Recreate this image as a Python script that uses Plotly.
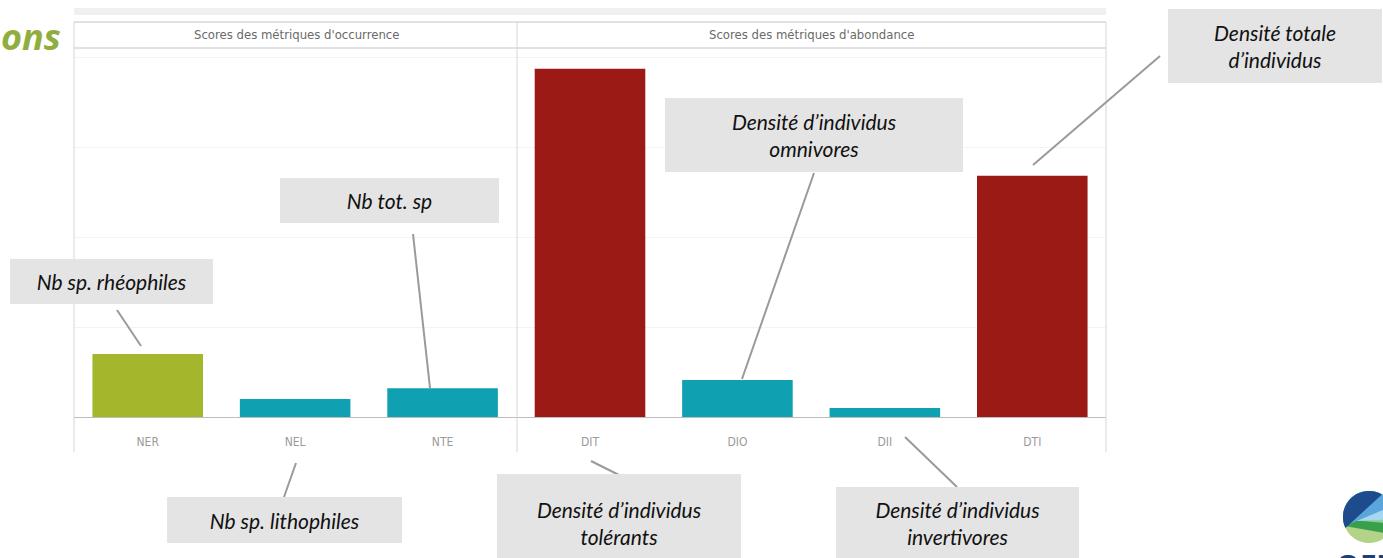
import math
import plotly.graph_objects as go

# ---------------- data ----------------
categories = ["NER", "NEL", "NTE", "DIT", "DIO", "DII", "DTI"]
scores = [0.70, 0.20, 0.32, 3.87, 0.41, 0.10, 2.68]
bar_colors = ["#a4b62b", "#0fa0b2", "#0fa0b2", "#9b1a16", "#0fa0b2", "#0fa0b2", "#9b1a16"]
facet_titles = ["Scores des métriques d'occurrence", "Scores des métriques d'abondance"]
callouts = [
    "Nb sp. rhéophiles",
    "Nb sp. lithophiles",
    "Nb tot. sp",
    "Densité d’individus<br>tolérants",
    "Densité d’individus<br>omnivores",
    "Densité d’individus<br>invertivores",
    "Densité totale<br>d’individus",
]

# ---------------- geometry helpers ----------------
W, H = 1383, 558
L, R, T, B = 74, 1106, 48, 417


def px(x):
    return (x - L) / (R - L)


def py(y):
    return (B - y) / (B - T)


fig = go.Figure()
fig.add_trace(go.Bar(
    x=categories, y=scores, marker=dict(color=bar_colors, line=dict(width=0)),
    width=0.75, hoverinfo="x+y",
))

shapes = []
line_col = "#c4c4c4"
# faint band at the very top
shapes.append(dict(type="rect", xref="paper", yref="paper", x0=px(74), x1=px(1106), y0=py(15), y1=py(8),
                   fillcolor="#f0f0f0", line=dict(width=0), layer="below"))
# frame
for yy in (22, 48):
    shapes.append(dict(type="line", xref="paper", yref="paper", x0=px(74), x1=px(1106), y0=py(yy), y1=py(yy),
                       line=dict(color=line_col, width=1)))
for xx in (74, 517, 1106):
    shapes.append(dict(type="line", xref="paper", yref="paper", x0=px(xx), x1=px(xx), y0=py(22), y1=py(452),
                       line=dict(color="#d6d6d6", width=1)))

# connector lines (pixel endpoints of decoration)
connectors = [
    ((117, 310), (141, 346)),
    ((296, 463), (284, 497)),
    ((413, 234), (430, 388)),
    ((591, 461), (619, 475)),
    ((814, 173), (742, 379)),
    ((905, 437), (957, 487)),
    ((1160, 56), (1033, 165)),
]
for (x0, y0), (x1, y1) in connectors:
    shapes.append(dict(type="line", xref="paper", yref="paper", x0=px(x0), y0=py(y0), x1=px(x1), y1=py(y1),
                       line=dict(color="#9a9a9a", width=2)))

# logo (decoration)
cx, cy, rad = 1369, 517, 26


def arc_region(a1, a2, n=40):
    pts = []
    for i in range(n + 1):
        a = math.radians(a1 + (a2 - a1) * i / n)
        pts.append((cx + rad * math.cos(a), cy - rad * math.sin(a)))
    return "M " + " L ".join(f"{px(x):.5f},{py(y):.5f}" for x, y in pts) + " Z"


logo_parts = [
    (0, 360, "#b3d488"),
    (-40, 200, "#3a9f4a"),
    (-15, 185, "#8bd0a0"),
    (-5, 190, "#a6d7f0"),
    (25, 200, "#5aa6dc"),
    (60, 205, "#1e4b8c"),
]
for a1, a2, col in logo_parts:
    shapes.append(dict(type="path", xref="paper", yref="paper", path=arc_region(a1, a2),
                       fillcolor=col, line=dict(width=0)))

annotations = []


def note(text, x, y, xanchor="center", yanchor="middle", **kw):
    annotations.append(dict(text=text, x=px(x), y=py(y), xref="paper", yref="paper", showarrow=False,
                            xanchor=xanchor, yanchor=yanchor, **kw))


# facet titles
note(facet_titles[0], 296, 34, font=dict(family="DejaVu Sans Condensed", size=13, color="#6a6a6a"))
note(facet_titles[1], 811, 34, font=dict(family="DejaVu Sans Condensed", size=13, color="#6a6a6a"))
# cut-off title fragment
note("<b><i>ons</i></b>", 63, 36, xanchor="right",
     font=dict(family="Open Sans", size=36, color="#8fae3e"))
# OFB text (cut at bottom, as in the source image)
note("<b>OFB</b>", 1334, 543, xanchor="left", yanchor="top",
     font=dict(family="Open Sans", size=30, color="#1d3f73"))

# callout boxes: (text index, center x, center y, width, height)
boxes = [
    (0, 111.5, 281.5, 203, 45),
    (1, 284.5, 520, 235, 46),
    (2, 389.5, 200.5, 219, 45),
    (3, 619, 523, 244, 98),
    (4, 814, 135, 298, 74),
    (5, 957, 523, 243, 72),
    (6, 1275, 46, 214, 74),
]
for idx, bx, by, bw, bh in boxes:
    note(callouts[idx], bx, by, width=bw, height=bh, bgcolor="#e4e4e4",
         borderpad=0, borderwidth=0, align="center", valign="middle",
         font=dict(family="Lato", size=21, color="#111111", style="italic"))

fig.update_layout(
    width=W, height=H,
    margin=dict(l=L, r=W - R, t=T, b=H - B),
    paper_bgcolor="white", plot_bgcolor="white",
    showlegend=False,
    shapes=shapes,
    annotations=annotations,
    xaxis=dict(range=[-0.5, 6.5], showline=True, linecolor="#bdbdbd", linewidth=1,
               ticks="outside", ticklen=14, tickcolor="rgba(0,0,0,0)",
               tickfont=dict(family="DejaVu Sans Condensed", size=12, color="#9a9a9a"),
               showgrid=False, zeroline=False, fixedrange=True),
    yaxis=dict(range=[0, 4.1], dtick=1, showgrid=True, gridcolor="#f3f3f3", gridwidth=1,
               showticklabels=False, zeroline=False, showline=False, fixedrange=True),
)

fig.write_html("out.html", config={"displayModeBar": False},
               post_script="document.body.style.margin='0';")
